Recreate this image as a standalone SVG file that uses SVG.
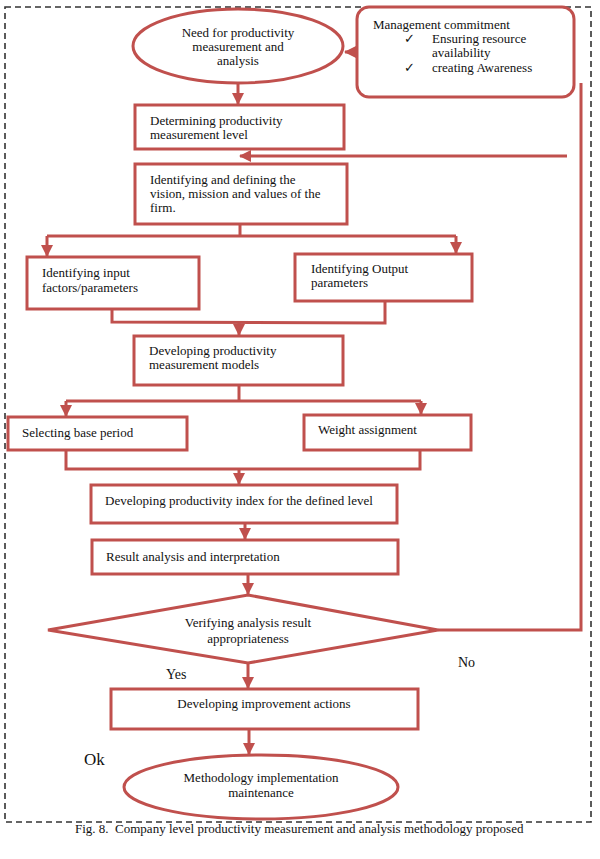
<svg xmlns="http://www.w3.org/2000/svg" width="600" height="859" viewBox="0 0 600 859">
<style>
.n{fill:#fff;stroke:#c0504d;stroke-width:3}
.c{fill:none;stroke:#c0504d;stroke-width:3}
.t{font-family:"Liberation Serif","Times New Roman",serif;font-size:13px;fill:#111}
.m{text-anchor:middle}
</style>
<defs>
<marker id="ah" markerUnits="userSpaceOnUse" markerWidth="12" markerHeight="12" refX="11" refY="6" orient="auto">
<path d="M0,0 L12,6 L0,12 z" fill="#c0504d"/>
</marker>
</defs>
<rect width="600" height="859" fill="#fff"/>
<rect x="5" y="7" width="586" height="815" fill="none" stroke="#333" stroke-width="1.6" stroke-dasharray="6 4"/>
<g id="connectors">
<line class="c" x1="238" y1="83" x2="238" y2="104" marker-end="url(#ah)"/>
<line class="c" x1="357" y1="52" x2="345" y2="52" marker-end="url(#ah)"/>
<polyline class="c" points="438,630 581,630 581,83"/>
<line class="c" x1="567" y1="156" x2="240" y2="156" marker-end="url(#ah)"/>
<line class="c" x1="240" y1="224" x2="240" y2="236"/>
<line class="c" x1="47" y1="236" x2="456" y2="236"/>
<line class="c" x1="47" y1="236" x2="47" y2="256" marker-end="url(#ah)"/>
<line class="c" x1="456" y1="236" x2="456" y2="253" marker-end="url(#ah)"/>
<polyline class="c" points="112,309 112,322 385,323 385,301"/>
<line class="c" x1="239" y1="322" x2="239" y2="335" marker-end="url(#ah)"/>
<line class="c" x1="239" y1="385" x2="239" y2="401"/>
<line class="c" x1="66" y1="401" x2="421" y2="401"/>
<line class="c" x1="66" y1="401" x2="66" y2="416" marker-end="url(#ah)"/>
<line class="c" x1="421" y1="401" x2="421" y2="414" marker-end="url(#ah)"/>
<polyline class="c" points="66,450 66,469 420,469 420,450"/>
<line class="c" x1="239" y1="469" x2="239" y2="484" marker-end="url(#ah)"/>
<line class="c" x1="245" y1="523" x2="245" y2="539" marker-end="url(#ah)"/>
<line class="c" x1="248" y1="574" x2="248" y2="594" marker-end="url(#ah)"/>
<line class="c" x1="248" y1="663" x2="248" y2="688" marker-end="url(#ah)"/>
<line class="c" x1="249" y1="729" x2="249" y2="754" marker-end="url(#ah)"/>
</g>
<g id="start">
<ellipse class="n" cx="238" cy="46" rx="105" ry="37"/>
<text class="t m" x="238" y="37">Need for productivity</text>
<text class="t m" x="238" y="51">measurement and</text>
<text class="t m" x="238" y="65">analysis</text>
</g>
<g id="management">
<rect class="n" x="357" y="7" width="217" height="90" rx="12"/>
<text class="t" x="373" y="29">Management commitment</text>
<text class="t" x="404" y="43">✓</text>
<text class="t" x="432" y="43">Ensuring resource</text>
<text class="t" x="432" y="57">availability</text>
<text class="t" x="404" y="72">✓</text>
<text class="t" x="432" y="72">creating Awareness</text>
</g>
<g id="level">
<rect class="n" x="135" y="105" width="209" height="44"/>
<text class="t" x="150" y="125">Determining productivity</text>
<text class="t" x="150" y="139">measurement level</text>
</g>
<g id="vision">
<rect class="n" x="135" y="164" width="212" height="60"/>
<text class="t" x="150" y="184">Identifying and defining the</text>
<text class="t" x="150" y="198">vision, mission and values of the</text>
<text class="t" x="150" y="212">firm.</text>
</g>
<g id="input">
<rect class="n" x="27" y="257" width="172" height="52"/>
<text class="t" x="42" y="277">Identifying input</text>
<text class="t" x="42" y="292">factors/parameters</text>
</g>
<g id="output">
<rect class="n" x="295" y="254" width="177" height="47"/>
<text class="t" x="311" y="273">Identifying Output</text>
<text class="t" x="311" y="287">parameters</text>
</g>
<g id="models">
<rect class="n" x="134" y="336" width="209" height="49"/>
<text class="t" x="149" y="355">Developing productivity</text>
<text class="t" x="149" y="369">measurement models</text>
</g>
<g id="base">
<rect class="n" x="8" y="417" width="179" height="33"/>
<text class="t" x="22" y="437">Selecting base period</text>
</g>
<g id="weight">
<rect class="n" x="304" y="415" width="167" height="35"/>
<text class="t" x="318" y="434">Weight assignment</text>
</g>
<g id="index">
<rect class="n" x="91" y="485" width="306" height="38"/>
<text class="t" x="105" y="505">Developing productivity index for the defined level</text>
</g>
<g id="result">
<rect class="n" x="92" y="540" width="306" height="34"/>
<text class="t" x="106" y="561">Result analysis and interpretation</text>
</g>
<g id="verify">
<polygon class="n" points="248,595 438,630 248,663 48,630"/>
<text class="t m" x="248" y="627">Verifying analysis result</text>
<text class="t m" x="248" y="643">appropriateness</text>
</g>
<text class="t" x="458" y="667" style="font-size:14px">No</text>
<text class="t" x="166" y="679" style="font-size:14px">Yes</text>
<g id="improve">
<rect class="n" x="111" y="689" width="307" height="40"/>
<text class="t m" x="264" y="708">Developing improvement actions</text>
</g>
<text class="t" x="84" y="765" style="font-size:17px">Ok</text>
<g id="end">
<ellipse class="n" cx="261" cy="787" rx="137" ry="32"/>
<text class="t m" x="261" y="782">Methodology implementation</text>
<text class="t m" x="261" y="797">maintenance</text>
</g>
<text class="t" x="75" y="833" xml:space="preserve" style="font-size:13px">Fig. 8.  Company level productivity measurement and analysis methodology proposed</text>
</svg>
